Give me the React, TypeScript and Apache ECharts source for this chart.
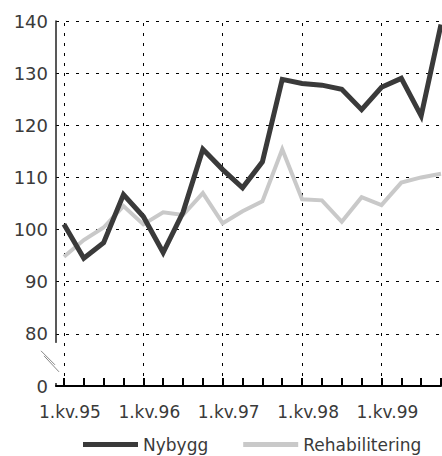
import React, { useEffect, useRef } from "react";
import * as echarts from "echarts";

const quarterLabels = [
  "1.kv.95", "2.kv.95", "3.kv.95", "4.kv.95",
  "1.kv.96", "2.kv.96", "3.kv.96", "4.kv.96",
  "1.kv.97", "2.kv.97", "3.kv.97", "4.kv.97",
  "1.kv.98", "2.kv.98", "3.kv.98", "4.kv.98",
  "1.kv.99", "2.kv.99", "3.kv.99", "4.kv.99",
];
const yearStartIndices = [0, 4, 8, 12, 16];
const nybygg = [101, 94.5, 97.5, 106.7, 102.5, 95.6, 103.3, 115.4, 111.5, 108, 113, 128.8, 128, 127.7, 126.9, 123, 127.3, 129, 121.8, 139.3];
const rehabilitering = [94.8, 98, 100.4, 104.5, 101, 103.3, 102.8, 107, 101.2, 103.5, 105.4, 115.4, 105.8, 105.6, 101.5, 106.2, 104.7, 109, 110, 110.7];
const yTicks = [70, 80, 90, 100, 110, 120, 130, 140];
const yBreakLabel = "0";

const FONT = "DejaVu Sans";
const TEXT = "#3a3a3a";

export default function App() {
  const ref = useRef<HTMLDivElement>(null);
  useEffect(() => {
    document.body.style.margin = "0";
    const chart = echarts.init(ref.current!, null, { renderer: "svg" });
    const dotted = { color: "#000", width: 1, type: [3, 7] as number[] };
    chart.setOption({
      animation: false,
      backgroundColor: "#fff",
      grid: { left: 56, right: 1, top: 21, bottom: 70, containLabel: false },
      xAxis: {
        type: "value",
        min: -0.4,
        max: quarterLabels.length - 1,
        splitLine: { show: false },
        axisLine: { show: true, onZero: false, lineStyle: { color: "#000", width: 2 } },
        axisTick: {
          show: true,
          inside: true,
          length: 8,
          lineStyle: { color: "#000", width: 2 },
          customValues: quarterLabels.map((_, i) => i),
        },
        axisLabel: {
          customValues: yearStartIndices,
          formatter: (v: number) => quarterLabels[Math.round(v)] ?? "",
          color: TEXT,
          fontFamily: FONT,
          fontSize: 17,
          margin: 17,
          padding: [0, 0, 0, 12],
        },
      },
      yAxis: {
        type: "value",
        min: yTicks[0],
        max: yTicks[yTicks.length - 1],
        interval: 10,
        axisLine: { show: true, onZero: false, lineStyle: { color: "#222", width: 1.5 } },
        axisTick: { show: false },
        splitLine: { show: true, lineStyle: dotted },
        axisLabel: {
          formatter: (v: number) => (v === yTicks[0] ? yBreakLabel : String(v)),
          color: TEXT,
          fontFamily: FONT,
          fontSize: 18,
          margin: 8,
        },
      },
      legend: {
        left: 78,
        top: 431,
        icon: "rect",
        itemWidth: 55,
        itemHeight: 5,
        itemGap: 35,
        textStyle: { color: TEXT, fontFamily: FONT, fontSize: 17 },
        data: ["Nybygg", "Rehabilitering"],
      },
      series: [
        {
          name: "Rehabilitering",
          type: "line",
          symbol: "none",
          data: rehabilitering.map((v, i) => [i, v]),
          lineStyle: { color: "#c9c9c9", width: 4, join: "miter" },
          itemStyle: { color: "#c9c9c9" },
          z: 3,
          markLine: {
            silent: true,
            symbol: ["none", "none"],
            label: { show: false },
            lineStyle: dotted,
            data: yearStartIndices.map((i) => ({ xAxis: i })),
            z: 1,
          },
        },
        {
          name: "Nybygg",
          type: "line",
          symbol: "none",
          data: nybygg.map((v, i) => [i, v]),
          lineStyle: { color: "#3a3a3a", width: 5, join: "miter" },
          itemStyle: { color: "#3a3a3a" },
          z: 4,
        },
      ],
    });
    const p80 = chart.convertToPixel({ gridIndex: 0 }, [-0.4, 80]) as number[];
    const p70 = chart.convertToPixel({ gridIndex: 0 }, [-0.4, 70]) as number[];
    const ax = p80[0];
    const top = p80[1] + 9;
    const bot = p70[1] - 3;
    chart.setOption({
      graphic: [
        { type: "rect", z: 100, shape: { x: ax - 4, y: top, width: 7, height: bot - top }, style: { fill: "#fff" } },
        { type: "line", z: 101, shape: { x1: ax - 15, y1: top + 8, x2: ax - 1, y2: top + 22 }, style: { stroke: "#888", lineWidth: 1 } },
        { type: "line", z: 101, shape: { x1: ax - 12, y1: top + 13, x2: ax + 3, y2: top + 29 }, style: { stroke: "#888", lineWidth: 1 } },
      ],
    });
    return () => chart.dispose();
  }, []);
  return <div ref={ref} style={{ width: 442, height: 456 }} />;
}
